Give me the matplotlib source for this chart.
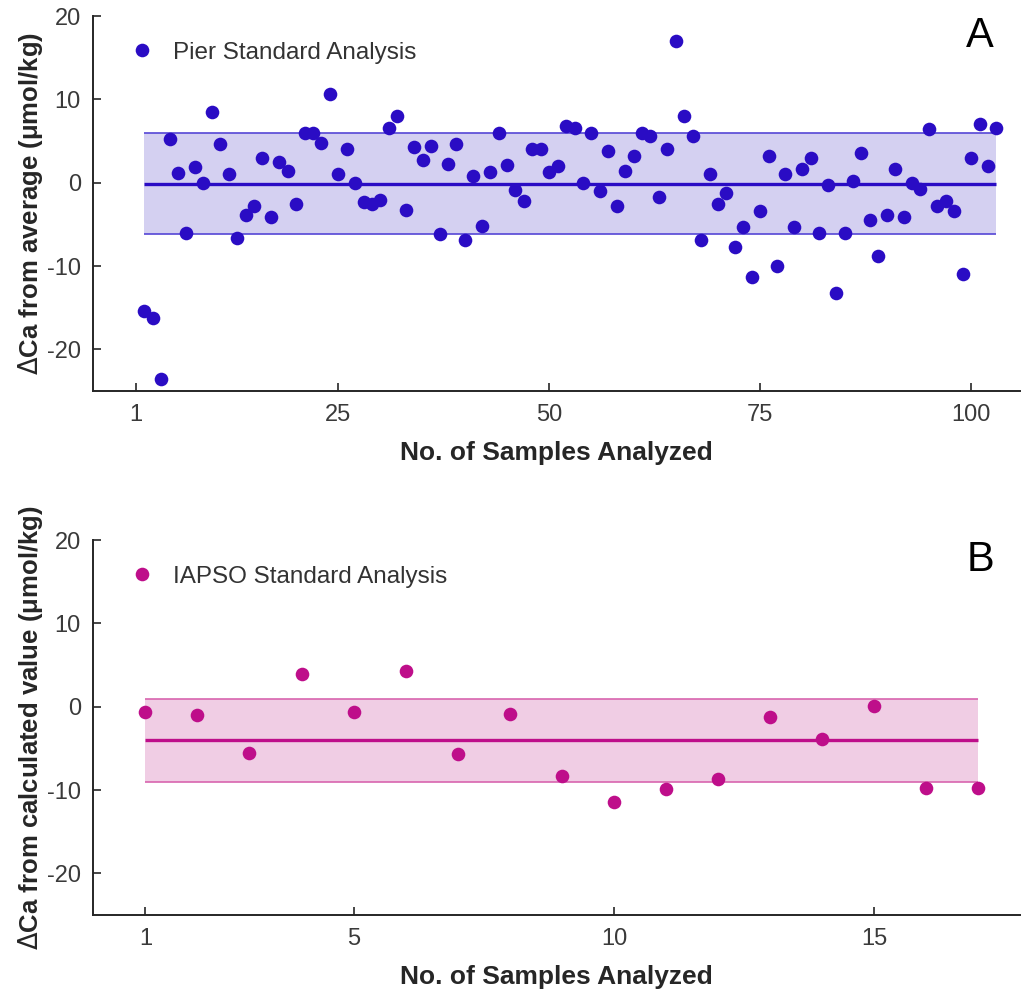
import numpy as np
import matplotlib
matplotlib.use('Agg')
import matplotlib.pyplot as plt

plt.rcParams['font.family'] = ['Liberation Sans', 'DejaVu Sans']
plt.rcParams['mathtext.fontset'] = 'dejavusans'
plt.rcParams['axes.unicode_minus'] = False

## Pier standard: deviation of each run from the average (umol/kg)
pier_dca = [-15.4, -16.2, -23.6, 5.3, 1.2, -6.0, 1.9, 0.0, 8.5, 4.6,
            1.1, -6.6, -3.9, -2.8, 3.0, -4.1, 2.5, 1.4, -2.5, 5.95,
            5.95, 4.8, 10.6, 1.05, 4.05, 0.0, -2.3, -2.5, -2.1, 6.6,
            8.05, -3.25, 4.25, 2.75, 4.45, -6.2, 2.3, 4.65, -6.85, 0.85,
            -5.15, 1.25, 5.95, 2.15, -0.85, -2.2, 4.05, 4.05, 1.25, 1.95,
            6.8, 6.6, 0.0, 5.95, -0.95, 3.85, -2.8, 1.45, 3.15, 5.95,
            5.55, -1.75, 4.05, 16.95, 8.05, 5.65, -6.85, 1.05, -2.55, -1.25,
            -7.7, -5.35, -11.3, -3.4, 3.2, -10.0, 1.05, -5.35, 1.65, 3.0,
            -6.0, -0.25, -13.25, -6.0, 0.15, 3.6, -4.5, -8.75, -3.85, 1.65,
            -4.1, 0.0, -0.75, 6.4, -2.8, -2.15, -3.4, -10.9, 3.0, 7.0,
            1.95, 6.6]
pier_n = np.arange(2, 2 + len(pier_dca))
pier_mean = -0.1
pier_sd = 6.05

## IAPSO standard: deviation from the calculated value (umol/kg)
iapso_dca = [-0.67, -1.03, -5.5, 3.88, -0.64, 4.28, -5.7, -0.84, -8.27,
             -11.47, -9.9, -8.67, -1.24, -3.84, 0.05, -9.71, -9.71]
iapso_n = np.arange(1, 1 + len(iapso_dca))
iapso_mean = -4.05
iapso_sd = 5.0

ink = '#262626'


def panel(ax, n, dca, mean, sd, dot, line, fill, label, letter, ylabel):
    ax.fill_between([n[0], n[-1]], mean - sd, mean + sd, color=fill, lw=0, zorder=1)
    ax.hlines([mean - sd, mean + sd], n[0], n[-1], colors=line, lw=1.2, zorder=2)
    ax.hlines(mean, n[0], n[-1], colors=dot, lw=2.4, zorder=2)
    ax.plot(n, dca, 'o', ms=9.8, color=dot, mec='none', label=label, zorder=3)

    ax.set_ylim(-25, 20)
    ax.set_yticks([-20, -10, 0, 10, 20])
    for side in ['top', 'right']:
        ax.spines[side].set_visible(False)
    for side in ['left', 'bottom']:
        ax.spines[side].set_color(ink)
        ax.spines[side].set_linewidth(1.4)
    ax.tick_params(direction='in', length=6, width=1.2, color=ink,
                   labelcolor='#3a3a3a', labelsize=17, pad=9)
    ax.set_xlabel('No. of Samples Analyzed', fontsize=19, weight='bold',
                  color=ink, labelpad=11)
    ax.set_ylabel(r'$\Delta$' + ylabel, fontsize=18.5, weight='bold',
                  color=ink, labelpad=1)
    ax.legend(loc='upper left', bbox_to_anchor=(0.039, 0.932), frameon=False,
              borderpad=0, borderaxespad=0, handlelength=1.0, handletextpad=0.8,
              fontsize=17.5, labelcolor='#333333')
    ax.text(0.957, 0.948, letter, transform=ax.transAxes, fontsize=30,
            ha='center', va='center', color='black')


fig = plt.figure(figsize=(10.23, 9.92), dpi=100)
ax1 = fig.add_axes([0.0912, 0.6058, 0.9059, 0.378])
ax2 = fig.add_axes([0.0912, 0.0776, 0.9059, 0.378])

panel(ax1, pier_n, pier_dca, pier_mean, pier_sd, '#2A0CC4', '#5546D6', '#D4D0F1',
      'Pier Standard Analysis', 'A', 'Ca from average (μmol/kg)')
ax1.set_xlim(-4.04, 105.8)
ax1.set_xticks([1, 25, 50, 75, 100])

panel(ax2, iapso_n, iapso_dca, iapso_mean, iapso_sd, '#BE0E8A', '#D865AF', '#F0CDE4',
      'IAPSO Standard Analysis', 'B', 'Ca from calculated value (μmol/kg)')
ax2.set_xlim(0, 17.8)
ax2.set_xticks([1, 5, 10, 15])

fig.savefig('out.png', dpi=100)
